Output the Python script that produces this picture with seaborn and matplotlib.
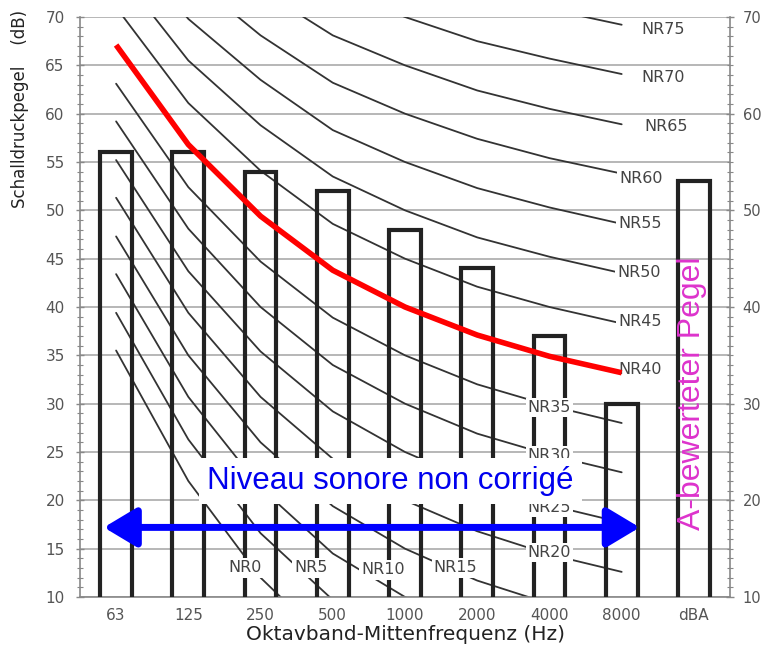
import matplotlib
matplotlib.use("Agg")
import matplotlib.pyplot as plt
from matplotlib.ticker import MultipleLocator
import seaborn as sns

# -----------------------------
# DATA
# -----------------------------
bands = ["63", "125", "250", "500", "1000", "2000", "4000", "8000", "dBA"]
levels = [56, 56, 54, 52, 48, 44, 37, 30, 53]

# NR curves, 63 Hz .. 8000 Hz
nr_names = ["NR0", "NR5", "NR10", "NR15", "NR20", "NR25", "NR30", "NR35",
            "NR40", "NR45", "NR50", "NR55", "NR60", "NR65", "NR70", "NR75"]
nr_values = [
    [35.5, 22.0, 12.0, 4.8, 0.0, -3.5, -6.1, -8.0],
    [39.4, 26.3, 16.6, 9.7, 5.0, 1.6, -1.0, -2.8],
    [43.4, 30.7, 21.3, 14.5, 10.0, 6.6, 4.2, 2.3],
    [47.3, 35.0, 26.0, 19.4, 15.0, 11.7, 9.3, 7.4],
    [51.3, 39.4, 30.7, 24.3, 20.0, 16.8, 14.4, 12.6],
    [55.2, 43.7, 35.4, 29.2, 25.0, 21.8, 19.5, 17.7],
    [59.2, 48.1, 40.0, 34.0, 30.0, 26.9, 24.7, 22.9],
    [63.1, 52.4, 44.7, 38.9, 35.0, 32.0, 29.8, 28.0],
    [67.1, 56.8, 49.4, 43.8, 40.0, 37.1, 34.9, 33.2],
    [71.0, 61.1, 54.1, 48.6, 45.0, 42.1, 40.0, 38.3],
    [75.0, 65.5, 58.8, 53.5, 50.0, 47.2, 45.2, 43.5],
    [78.9, 69.8, 63.5, 58.3, 55.0, 52.3, 50.3, 48.6],
    [82.9, 74.2, 68.1, 63.2, 60.0, 57.4, 55.4, 53.8],
    [86.8, 78.5, 72.8, 68.1, 65.0, 62.4, 60.5, 58.9],
    [90.8, 82.9, 77.5, 73.0, 70.0, 67.5, 65.7, 64.1],
    [94.7, 87.2, 82.2, 77.8, 75.0, 72.6, 70.8, 69.2],
]
red_curve = "NR40"

# label anchor positions (x in band index, y in dB)
nr_label_x = [1.78, 2.70, 3.70, 4.70, 6.0, 6.0, 6.0, 6.0,
              7.25, 7.25, 7.24, 7.25, 7.27, 7.62, 7.58, 7.58]
nr_label_y = [13.0, 13.0, 12.8, 13.0, 14.6, 19.3, 24.6, 29.6,
              33.5, 38.5, 43.6, 48.6, 53.3, 58.7, 63.7, 68.7]

# -----------------------------
# PLOT
# -----------------------------
sns.set_style("white")
plt.rcParams["font.family"] = ["DejaVu Sans"]

fig = plt.figure(figsize=(7.65, 6.48), dpi=100)
ax = fig.add_axes([80 / 765, 1 - 597 / 648, 650 / 765, 580 / 648])

sns.barplot(x=bands, y=levels, order=bands, fill=False, color="#222222",
            linewidth=3.0, width=0.44, errorbar=None, ax=ax, zorder=3)

band_pos = list(range(len(nr_values[0])))
for name, vals in zip(nr_names, nr_values):
    if name == red_curve:
        ax.plot(band_pos, vals, color="red", lw=4.0, zorder=5,
                solid_capstyle="butt", solid_joinstyle="round")
    else:
        ax.plot(band_pos, vals, color="#333333", lw=1.3, zorder=2)

for name, lx, ly in zip(nr_names, nr_label_x, nr_label_y):
    ax.text(lx, ly, name, ha="center", va="center", fontsize=11.5,
            color="#444444", zorder=4,
            bbox=dict(facecolor="white", edgecolor="none", pad=1.5))

ax.set_xlim(-0.5, 8.5)
ax.set_ylim(10, 70)

ax.yaxis.set_major_locator(MultipleLocator(5))
ax.yaxis.set_minor_locator(MultipleLocator(1))
ax.grid(axis="y", which="major", color="#aaaaaa", lw=1.2, zorder=0)
ax.set_axisbelow(True)
ax.tick_params(axis="y", which="major", direction="inout", length=6,
               width=1, color="#888888", labelsize=11, labelcolor="#555555", pad=8)
ax.tick_params(axis="y", which="minor", direction="inout", length=4,
               width=0.8, color="#888888")
ax.tick_params(axis="x", length=0, labelsize=11, labelcolor="#555555", pad=8)
ax.set_xlabel("Oktavband-Mittenfrequenz (Hz)", fontsize=14.5, color="#222222",
              labelpad=1)
ax.set_ylabel("")
for side in ["top", "right"]:
    ax.spines[side].set_visible(False)
for side in ["left", "bottom"]:
    ax.spines[side].set_color("#888888")
    ax.spines[side].set_linewidth(1.2)

ax2 = ax.twinx()
ax2.set_ylim(10, 70)
ax2.yaxis.set_major_locator(MultipleLocator(10))
ax2.yaxis.set_minor_locator(MultipleLocator(1))
ax2.tick_params(axis="y", which="major", direction="inout", length=6,
                width=1, color="#888888", labelsize=10.5, labelcolor="#555555", pad=6)
ax2.tick_params(axis="y", which="minor", direction="inout", length=4,
                width=0.8, color="#888888")
for side in ["top", "left", "bottom"]:
    ax2.spines[side].set_visible(False)
ax2.spines["right"].set_color("#888888")
ax2.spines["right"].set_linewidth(1.2)

fig.text(20 / 765, 1 - 10 / 648, "Schalldruckpegel    (dB)", rotation=90,
         ha="center", va="top", fontsize=12, color="#222222",
         family=["Liberation Sans Narrow", "DejaVu Sans"])

# annotations
ax.annotate("", xy=(-0.17, 17.2), xytext=(7.25, 17.2),
            arrowprops=dict(arrowstyle="<|-|>,head_length=1.0,head_width=0.6",
                            color="#0000ff", lw=5, mutation_scale=20,
                            shrinkA=0, shrinkB=0),
            zorder=7)
ax.text(3.80, 22.0, "Niveau sonore non corrigé", ha="center", va="center",
        fontsize=22.5, color="#0000ee", family=["Liberation Sans", "DejaVu Sans"],
        zorder=6, bbox=dict(facecolor="white", edgecolor="none", pad=6))
ax.text(7.97, 31.1, "A-bewerteter Pegel", rotation=90, ha="center", va="center",
        fontsize=23, color="#dd33cc", family=["Liberation Sans", "DejaVu Sans"],
        zorder=6)

plt.savefig("out.png", dpi=100)
